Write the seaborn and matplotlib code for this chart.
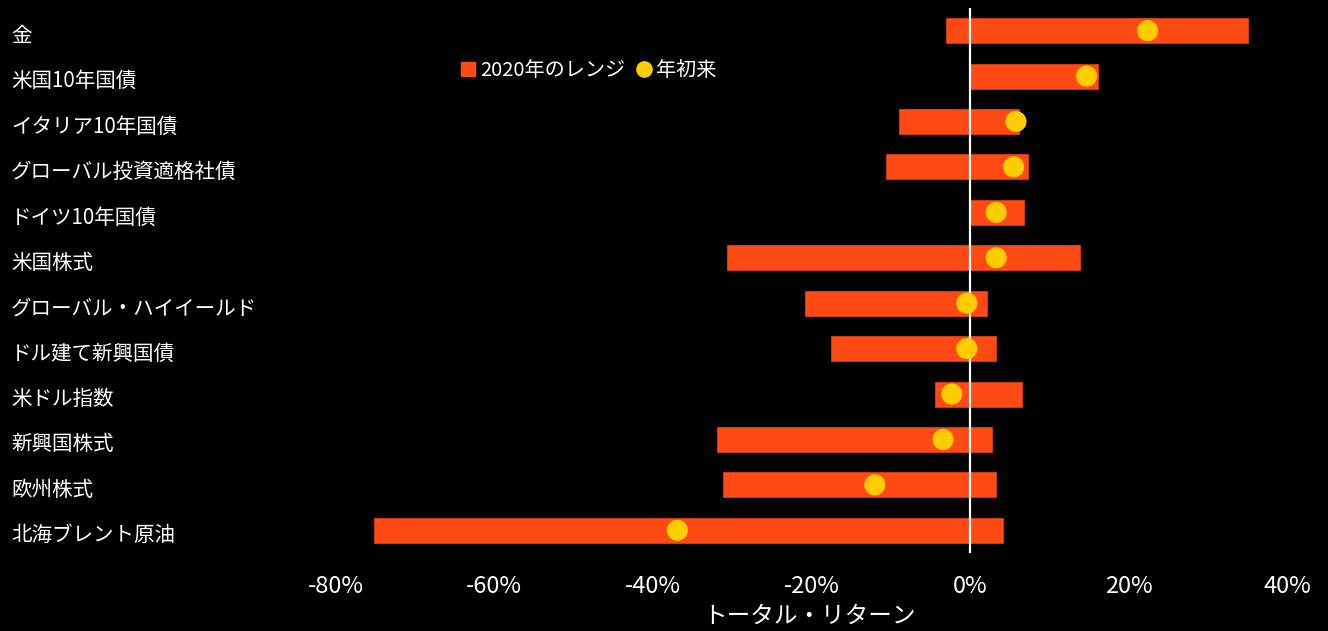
import matplotlib
matplotlib.use("Agg")
import matplotlib.pyplot as plt
import matplotlib.transforms as mtransforms
from matplotlib.lines import Line2D
import seaborn as sns
import pandas as pd

# data (total return, %)
assets = ['金', '米国10年国債', 'イタリア10年国債', 'グローバル投資適格社債', 'ドイツ10年国債',
          '米国株式', 'グローバル・ハイイールド', 'ドル建て新興国債', '米ドル指数', '新興国株式',
          '欧州株式', '北海ブレント原油']
range_low = [-3.0, 0.0, -8.9, -10.6, 0.0, -30.6, -20.8, -17.5, -4.4, -31.9, -31.2, -75.2]
range_high = [35.0, 16.2, 6.2, 7.3, 6.8, 13.9, 2.1, 3.3, 6.5, 2.8, 3.3, 4.2]
ytd = [22.4, 14.7, 5.8, 5.5, 3.3, 3.3, -0.4, -0.4, -2.3, -3.4, -12.0, -36.9]
xticks = [-80, -60, -40, -20, 0, 20, 40]

bar_col = '#FF4A14'
dot_col = '#FFCC00'

df = pd.DataFrame({'asset': assets, 'low': range_low, 'high': range_high, 'ytd': ytd})
df['pos'] = range(len(df))

sns.set_theme(style='dark')
plt.rcParams['font.family'] = ['Noto Sans CJK JP', 'DejaVu Sans']

fig = plt.figure(figsize=(13.28, 6.31), dpi=100, facecolor='black')
ax = fig.add_axes([300/1328, 78/631, 1020/1328, 545/631])
ax.set_facecolor('black')

ax.barh(df['pos'], df['high'] - df['low'], left=df['low'], height=0.55,
        color=bar_col, edgecolor='#E03C10', linewidth=0.6, zorder=2)
ax.axvline(0, color='white', lw=1.6, zorder=3)
sns.scatterplot(data=df, x='ytd', y='pos', color=dot_col, s=230, edgecolor='none',
                zorder=4, ax=ax, legend=False)

ax.set_xlim((300 - 970) / 7.93, (1320 - 970) / 7.93)
ax.set_ylim(11.5, -0.5)
ax.set_xticks(xticks)
ax.set_xticklabels([f'{v}%' for v in xticks])
ax.set_yticks(df['pos'])
ax.set_yticklabels([])
ax.tick_params(axis='y', length=0)
ax.tick_params(axis='x', length=0, pad=16, labelsize=17, labelcolor='white')

# category labels, left aligned at the figure edge, sitting a little below the bar centre
lab_trans = mtransforms.blended_transform_factory(fig.transFigure, ax.transData) + \
    mtransforms.ScaledTranslation(0, -5/100, fig.dpi_scale_trans)
for p, name in zip(df['pos'], df['asset']):
    ax.text(11/1328, p, name, transform=lab_trans, ha='left', va='center',
            fontsize=14.8, color='white', clip_on=False)

ax.set_xlabel('トータル・リターン', color='white', fontsize=17, labelpad=5)
ax.set_ylabel('')
ax.grid(False)
for sp in ax.spines.values():
    sp.set_visible(False)

handles = [Line2D([], [], marker='s', ls='', color=bar_col, markersize=10),
           Line2D([], [], marker='o', ls='', color=dot_col, markersize=11)]
leg = fig.legend(handles, ['2020年のレンジ', '年初来'], loc='center left',
                 bbox_to_anchor=(440/1328, 1 - 71/631), ncol=2, frameon=False,
                 handletextpad=0.1, columnspacing=0.4, handlelength=1.0, fontsize=14.5)
for t in leg.get_texts():
    t.set_color('white')

fig.savefig('out.png', dpi=100, facecolor='black')
